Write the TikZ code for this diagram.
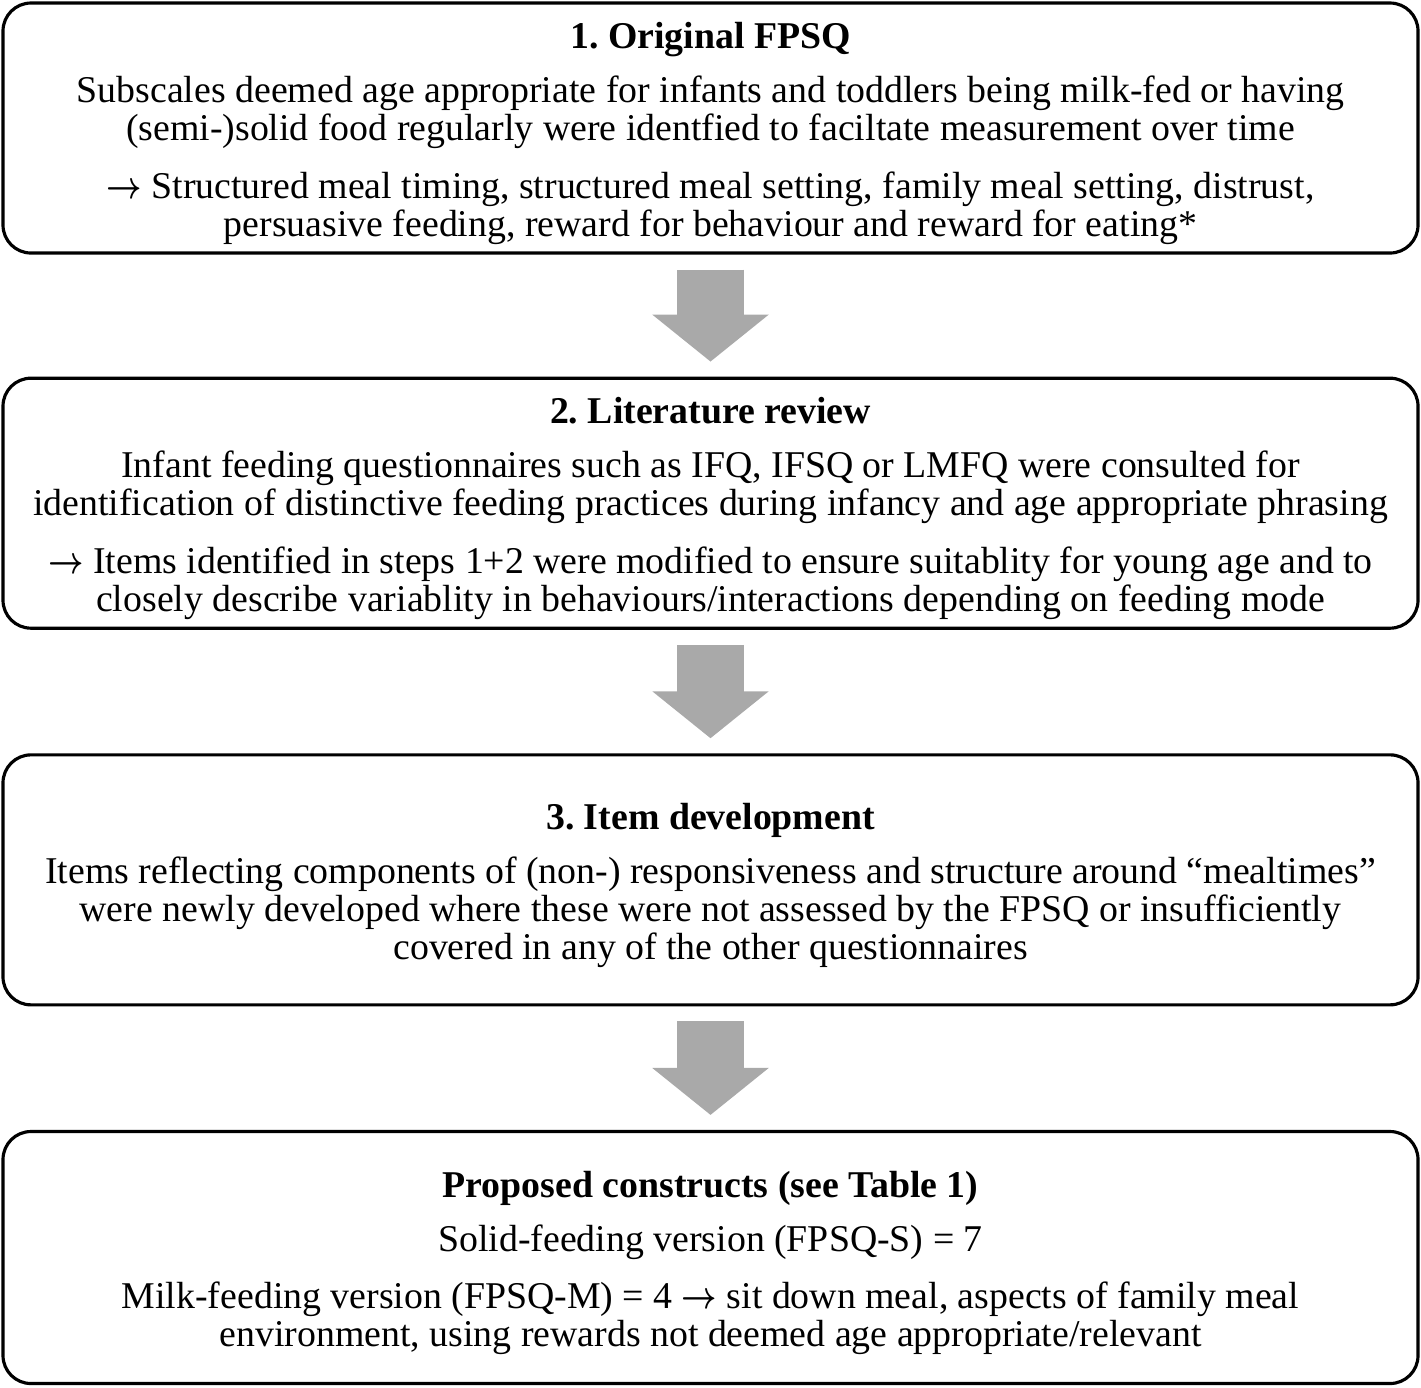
\documentclass[tikz,border=0pt]{standalone}
\usepackage{fontspec}
\setmainfont{Liberation Serif}
\usepackage{bm}
\usepackage{tikz}
\usetikzlibrary{positioning, arrows.meta}

\definecolor{arrowgray}{RGB}{169,169,169}
\newcommand{\ra}{\scalebox{0.8}[1]{$\bm{\rightarrow}$}}
\newcommand{\topgap}{\rule{0pt}{10.6pt}}

\begin{document}
\frenchspacing
\begin{tikzpicture}[
		stepbox/.style={draw, line width=0.9pt, rounded corners=0.28cm, minimum width=14.15cm, minimum height=2.5cm, inner ysep=0pt, align=center, font=\fontsize{10.76}{10.8}\selectfont},
		blockarrow/.style={draw=arrowgray, line width=0.67cm, -{Triangle[length=0.47cm, width=1.14cm, fill=arrowgray]}, shorten <=0.15cm, shorten >=0.15cm}]
			\useasboundingbox (0,0) rectangle (14.21,-13.87);
			
			% Steps
			\node[stepbox] (orig) at (7.105,-1.28) {\topgap\textbf{1. Original FPSQ}\\[4.6pt]
				Subscales deemed age appropriate for infants and toddlers being milk-fed or having\\
				(semi-)solid food regularly were identfied to faciltate measurement over time\\[5.8pt]
				\ra{} Structured meal timing, structured meal setting, family meal setting, distrust,\\
				persuasive feeding, reward for behaviour and reward for eating*};
			\node[stepbox, below=1.22cm of orig] (review) {\topgap\textbf{2. Literature review}\\[4.6pt]
				Infant feeding questionnaires such as IFQ, IFSQ or LMFQ were consulted for\\
				identification of distinctive feeding practices during infancy and age appropriate phrasing\\[5.8pt]
				\ra{} Items identified in steps 1+2 were modified to ensure suitablity for young age and to\\
				closely describe variablity in behaviours/interactions depending on feeding mode};
			\node[stepbox, below=1.235cm of review] (items) {\topgap\textbf{3. Item development}\\[4.6pt]
				Items reflecting components of (non-) responsiveness and structure around “mealtimes”\\
				were newly developed where these were not assessed by the FPSQ or insufficiently\\
				covered in any of the other questionnaires};
			\node[stepbox, minimum height=2.52cm, below=1.235cm of items] (constructs) {\topgap\textbf{Proposed constructs (see Table 1)}\\[4.6pt]
				Solid-feeding version (FPSQ-S) = 7\\[5.4pt]
				Milk-feeding version (FPSQ-M) = 4 \ra{} sit down meal, aspects of family meal\\
				environment, using rewards not deemed age appropriate/relevant};
			
			% Block arrows between steps
			\foreach \a/\b in {orig/review, review/items, items/constructs} {
				\draw[blockarrow] (\a) -- (\b);
			}
			
		\end{tikzpicture}
\end{document}
